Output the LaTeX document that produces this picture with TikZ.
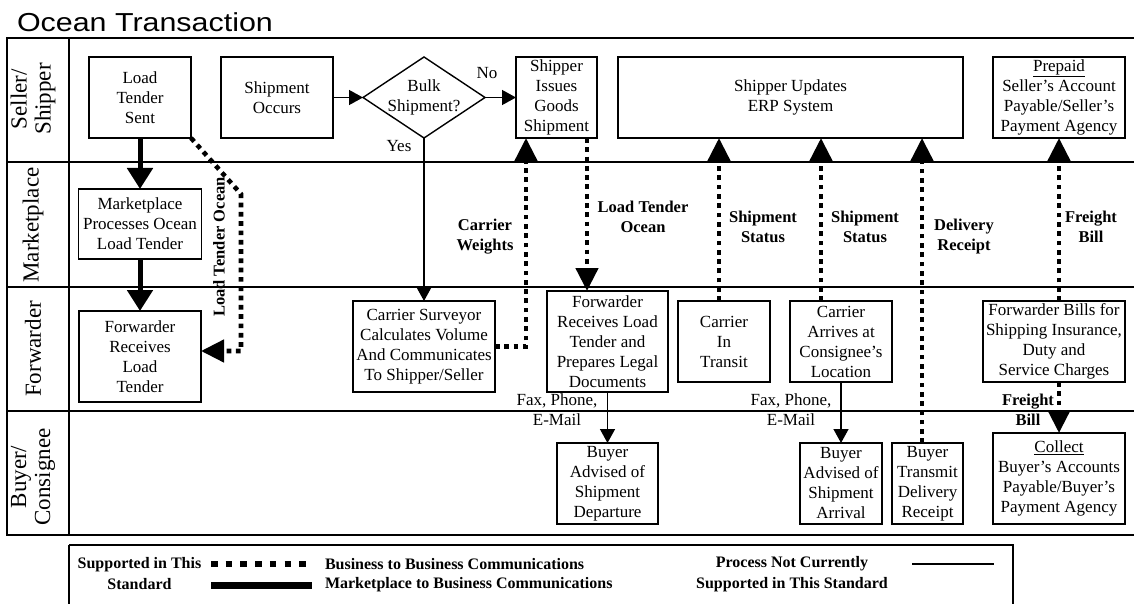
\documentclass[tikz,border=0pt]{standalone}
\usepackage{fontspec}
\setmainfont{Liberation Serif}
\newfontfamily\titlefont{Liberation Sans}
\usetikzlibrary{arrows.meta,shapes.geometric,calc}

\begin{document}
\begin{tikzpicture}[x=1pt,y=-1pt,
  every node/.style={inner sep=0pt, outer sep=0pt},
  box/.style={draw, line width=1.4pt, align=center, font=\fontsize{17}{20}\selectfont},
  plain/.style={align=center, font=\fontsize{17}{20}\selectfont},
  lbl/.style={align=center, font=\fontsize{16.5}{20}\selectfont\bfseries},
  legtxt/.style={align=center, font=\fontsize{16}{20.5}\selectfont\bfseries},
  lane/.style={rotate=90, align=center, font=\fontsize{23}{24}\selectfont},
  frame/.style={line width=2pt},
  thinarrow/.style={line width=1.4pt, -{Triangle[length=14pt,width=15pt]}},
  thickarrow/.style={line width=5pt, -{Triangle[length=21pt,width=25pt]}},
  dotarrow/.style={line width=4.6pt, dash pattern=on 4.7pt off 4.6pt, -{Triangle[length=23pt,width=22pt]}},
]
\useasboundingbox (0,0) rectangle (1134,604);

% title
\node[anchor=base west] (title) at (17,32)
  {\scalebox{1.17}[1]{\titlefont\fontsize{26}{30}\selectfont Ocean Transaction}};

% swimlane frame
\draw[frame] (1150,38) -- (7,38) -- (7,535) -- (1150,535);
\draw[frame] (7,162) -- (1150,162);
\draw[frame] (7,287) -- (1150,287);
\draw[frame] (7,411) -- (1150,411);
\draw[frame] (69,38) -- (69,535);

% lane headers
\node[lane] (laneA) at (33,99) {Seller/\\Shipper};
\node[lane] (laneB) at (33,225) {Marketplace};
\node[lane] (laneC) at (33,349) {Forwarder};
\node[lane] (laneD) at (33,477) {Buyer/\\Consignee};

% Seller / Shipper lane
\node[box, minimum width=102pt, minimum height=81pt] (lts) at (140,97.5) {Load\\Tender\\Sent};
\node[box, minimum width=112pt, minimum height=81pt] (so) at (277,97.5) {Shipment\\Occurs};
\node[draw, line width=1.4pt, diamond, minimum width=122pt, minimum height=81pt] (bulk) at (424,97.5) {};
\node[plain] (bulktxt) at (bulk.center) {Bulk\\Shipment?};
\node[box, minimum width=81pt, minimum height=81pt] (si) at (556.5,97.5) {Shipper\\Issues\\Goods\\Shipment};
\node[box, minimum width=345pt, minimum height=81pt] (erp) at (790.5,97.5) {Shipper Updates\\ERP System};
\node[box, minimum width=132pt, minimum height=81pt] (pre) at (1059,97.5)
  {\underline{Prepaid}\\Seller’s Account\\Payable/Seller’s\\Payment Agency};

% Marketplace lane
\node[box, minimum width=123pt, minimum height=70pt] (mp) at (140,224) {Marketplace\\Processes Ocean\\Load Tender};

% Forwarder lane
\node[box, minimum width=122pt, minimum height=91pt] (frv) at (140,356.5) {Forwarder\\Receives\\Load\\Tender};
\node[box, minimum width=142pt, minimum height=91pt] (cs) at (424,346.5)
  {Carrier Surveyor\\Calculates Volume\\And Communicates\\To Shipper/Seller};
\node[box, minimum width=121pt, minimum height=101pt] (frl) at (607.5,341.5)
  {Forwarder\\Receives Load\\Tender and\\Prepares Legal\\Documents};
\node[box, minimum width=92pt, minimum height=81pt] (cit) at (724,341.5) {Carrier\\In\\Transit};
\node[box, minimum width=102pt, minimum height=81pt] (ca) at (841,341.5) {Carrier\\Arrives at\\Consignee’s\\Location};
\node[box, minimum width=142pt, minimum height=81pt] (fb) at (1054,341.5)
  {Forwarder Bills for\\Shipping Insurance,\\Duty and\\Service Charges};

% Buyer / Consignee lane
\node[box, minimum width=101pt, minimum height=81pt] (bad) at (607.5,483.5) {Buyer\\Advised of\\Shipment\\Departure};
\node[box, minimum width=82pt, minimum height=81pt] (baa) at (841,483.5) {Buyer\\Advised of\\Shipment\\Arrival};
\node[box, minimum width=71pt, minimum height=81pt] (bt) at (927.5,483.5) {Buyer\\Transmit\\Delivery\\Receipt};
\node[box, minimum width=132pt, minimum height=91pt] (col) at (1059,478.5)
  {\underline{Collect}\\Buyer’s Accounts\\Payable/Buyer’s\\Payment Agency};

% process flow (not currently supported)
\draw[thinarrow] (so.east) -- (bulk.west);
\draw[thinarrow] (bulk.east) -- (si.west);
\draw[thinarrow] (bulk.south) -- (cs.north);
\node[plain] (no) at (487,73) {No};
\node[plain] (yes) at (399,146) {Yes};
\draw[thinarrow] (frl.south) -- (bad.north);
\draw[thinarrow] (ca.south) -- (baa.north);
\node[plain] (faxA) at (557,410) {Fax, Phone,\\E-Mail};
\node[plain] (faxB) at (791,410) {Fax, Phone,\\E-Mail};

% marketplace to business
\draw[thickarrow] (lts.south) -- (mp.north);
\draw[thickarrow] (mp.south) -- (frv.north);

% business to business
\coordinate (bendA) at (241,194);
\coordinate (bendB) at (241,351);
\draw[dotarrow] (lts.south east) -- (bendA) -- (bendB) -- (bendB -| frv.east);
\node[lbl, rotate=90] (ltoV) at (219,247) {Load Tender Ocean};

\coordinate (cwx) at ([xshift=10pt]si.south west);
\draw[dotarrow] (cs.east) -| (cwx);
\node[lbl] (cwl) at (485,237) {Carrier\\Weights};

\coordinate (ltx) at ([xshift=-10pt]si.south east);
\draw[dotarrow] (ltx) -- (ltx |- frl.north);
\node[lbl] (ltol) at (643,216.5) {Load Tender\\Ocean};

\coordinate (ssA) at (719,0);
\coordinate (ssB) at (821,0);
\coordinate (drx) at (922,0);
\draw[dotarrow] (ssA |- cit.north) -- (ssA |- erp.south);
\draw[dotarrow] (ssB |- ca.north) -- (ssB |- erp.south);
\draw[dotarrow] (drx |- bt.north) -- (drx |- erp.south);
\node[lbl] (ssAl) at (763,227) {Shipment\\Status};
\node[lbl] (ssBl) at (865,227) {Shipment\\Status};
\node[lbl] (drl) at (964,237) {Delivery\\Receipt};

\draw[dotarrow] (pre.south |- fb.north) -- (pre.south);
\draw[dotarrow] (col.north |- fb.south) -- (col.north);
\node[lbl] (fbA) at (1091,227) {Freight\\Bill};
\node[lbl] (fbB) at (1028,410) {Freight\\Bill};

% legend
\draw[frame] (69,545) -- (1013,545) -- (1013,620);
\draw[frame] (69,545) -- (69,620);
\node[legtxt] (legA) at (139.5,573.5) {Supported in This\\Standard};
\coordinate (ldA) at (211,564);
\coordinate (ldB) at (311,564);
\draw[line width=6.5pt, dash pattern=on 6.5pt off 8.2pt] (ldA) -- (ldB);
\coordinate (lsA) at (211,585);
\coordinate (lsB) at (312,585);
\draw[line width=7pt] (lsA) -- (lsB);
\node[legtxt, anchor=west] (legB) at (325,564) {Business to Business Communications};
\node[legtxt, anchor=west] (legC) at (325,585) {Marketplace to Business Communications};
\node[legtxt] (legD) at (792,574) {Process Not Currently\\Supported in This Standard};
\coordinate (lpA) at (912,564);
\coordinate (lpB) at (994,564);
\draw[line width=2pt] (lpA) -- (lpB);
\end{tikzpicture}
\end{document}
